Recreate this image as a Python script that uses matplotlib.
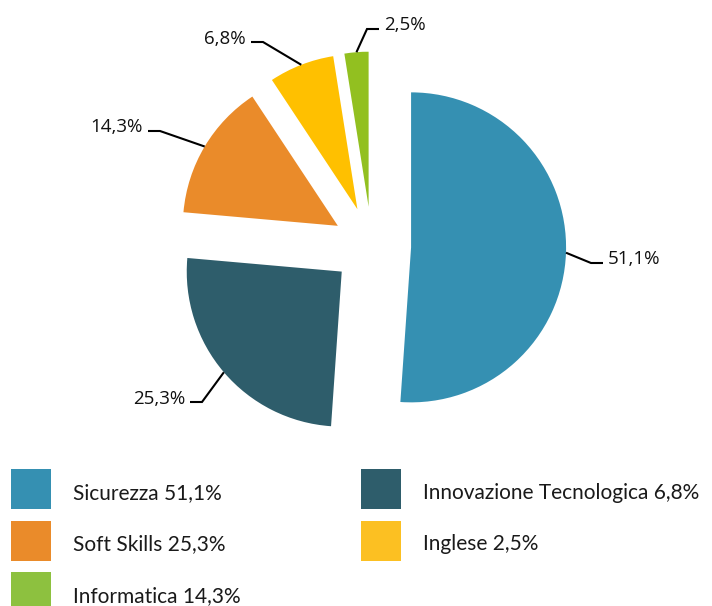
import matplotlib
matplotlib.use('Agg')
import matplotlib.pyplot as plt
from matplotlib.patches import Rectangle
import numpy as np

# pie data (clockwise from 12 o'clock)
values = [51.1, 25.3, 14.3, 6.8, 2.5]
pie_colors = ['#3590B2', '#2E5D6B', '#EA8B2A', '#FFC000', '#92C020']

# legend data (as printed under the chart)
legend_names = ['Sicurezza', 'Soft Skills', 'Informatica',
                'Innovazione Tecnologica', 'Inglese']
legend_values = [51.1, 25.3, 14.3, 6.8, 2.5]
legend_colors = ['#3590B2', '#EA8B2A', '#8DC13F', '#2E5D6B', '#FCC022']

W, H = 712, 606

def pct(v):
    return ('%.1f' % v).replace('.', ',') + '%'

fig = plt.figure(figsize=(W / 100, H / 100), dpi=100)
ax = fig.add_axes([0, 0, 1, 1])

wedges, _ = ax.pie(values, colors=pie_colors, startangle=90, counterclock=False,
                   radius=155, center=(371.7, H - 246), explode=[39.4] * len(values),
                   wedgeprops=dict(linewidth=0))
ax.set_xlim(0, W)
ax.set_ylim(0, H)
ax.set_aspect('equal')
ax.axis('off')

# leader elbows in pixel coords (x, y from top) and which side the text goes
elbows = [(591, 263), (202, 402), (160, 131), (263, 42), (367, 29)]
sides = [1, -1, -1, -1, 1]
seg = 12
gap = 5

for w, v, (ex, ey), s in zip(wedges, values, elbows, sides):
    th = np.deg2rad((w.theta1 + w.theta2) / 2)
    sx = w.center[0] + w.r * np.cos(th)
    sy = w.center[1] + w.r * np.sin(th)
    ey = H - ey
    ax.plot([sx, ex, ex + s * seg], [sy, ey, ey], color='black', lw=1.5,
            solid_capstyle='butt', solid_joinstyle='miter')
    ax.text(ex + s * (seg + gap), ey - 1.5, pct(v), fontsize=13.5,
            family='Open Sans', color='#111111',
            ha='left' if s > 0 else 'right', va='baseline')

# legend
cols_x = [11, 361]
rows_y = [469, 520.5, 572]
slots = [(0, 0), (0, 1), (0, 2), (1, 0), (1, 1)]
for name, v, c, (ci, ri) in zip(legend_names, legend_values, legend_colors, slots):
    x0 = cols_x[ci]
    y0 = rows_y[ri]
    ax.add_patch(Rectangle((x0, H - y0 - 40), 40, 40, facecolor=c,
                           edgecolor='none', clip_on=False))
    ax.text(x0 + 62, H - y0 - 30, name + ' ' + pct(v), fontsize=15,
            family='Lato', color='#1a1a1a', ha='left', va='baseline')

fig.savefig('out.png', dpi=100)
